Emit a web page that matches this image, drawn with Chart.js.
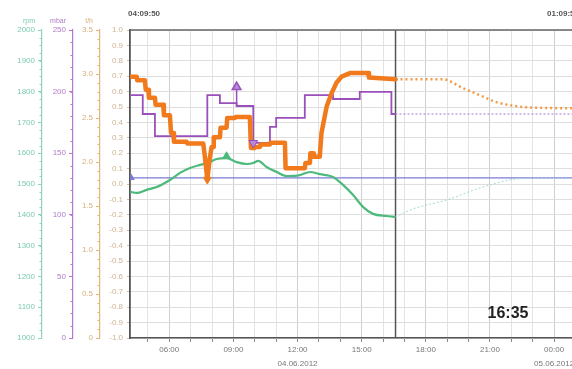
<!DOCTYPE html>
<html><head><meta charset="utf-8">
<script src="https://cdn.jsdelivr.net/npm/chart.js@4/dist/chart.umd.min.js"></script>
<style>
html,body{margin:0;padding:0;background:#fff;overflow:hidden;}
#wrap{width:572px;height:369px;overflow:hidden;position:relative;}
#box{width:600px;height:369px;position:absolute;left:0;top:0;}
</style></head><body>
<div id="wrap"><div id="box"><canvas id="c"></canvas></div></div>
<script>
// ---- time frame (hours of 04.06.2012) ----
const startHour = 4.1639;   // 04:09:50
const endHour = 25.1639;    // 01:09:50 (05.06.2012)
const nowHour = 16.583;     // 16:35
const startLabel = '04:09:50';
const endLabel = '01:09:50';
const nowLabel = '16:35';

// ---- x ticks ----
const hourTicks = [5,6,7,8,9,10,11,12,13,14,15,16,17,18,19,20,21,22,23,24,25];
const xLabelHours = [6,9,12,15,18,21,24];
const xLabels = ['06:00','09:00',['12:00','04.06.2012'],'15:00','18:00','21:00',['00:00','05.06.2012']];

// ---- axis labels ----
const greenLabels = [1000,1100,1200,1300,1400,1500,1600,1700,1800,1900,2000];
const magentaLabels = [0,50,100,150,200,250];
const orangeLabels = [0,0.5,1.0,1.5,2.0,2.5,3.0,3.5];
const greenUnit = 'rpm';
const magentaUnit = 'mbar';
const orangeUnit = 't/h';

// ---- orange series (t/h) ----
const orangeHours = [4.16,4.48,4.50,4.86,4.90,5.02,5.05,5.33,5.36,5.72,5.75,6.03,6.08,6.19,6.22,6.81,6.84,7.59,7.67,7.78,7.90,7.98,8.06,8.08,8.37,8.40,8.68,8.71,9.07,9.10,9.77,9.82,10.00,10.03,10.24,10.27,10.71,10.74,11.41,11.44,12.34,12.37,12.58,12.60,12.73,12.76,13.04,13.12,13.36,13.59,13.82,14.06,14.45,15.30,15.34,16.58];
const orangeValues = [2.97,2.97,2.93,2.93,2.82,2.82,2.73,2.73,2.65,2.65,2.53,2.53,2.33,2.33,2.23,2.23,2.21,2.21,2.05,1.80,2.05,2.17,2.17,2.28,2.28,2.39,2.39,2.50,2.50,2.51,2.51,2.16,2.16,2.17,2.17,2.20,2.20,2.22,2.22,1.93,1.93,1.99,1.99,2.10,2.10,2.06,2.06,2.33,2.63,2.78,2.90,2.97,3.01,3.01,2.96,2.94];
const orangeFcHours = [16.58,18.79,19.73,20.52,21.31,22.06,22.86,25.16];
const orangeFcValues = [2.94,2.94,2.84,2.76,2.68,2.64,2.62,2.61];

// ---- magenta series (mbar, stepped) ----
const magentaHours = [4.16,4.76,5.33,7.78,8.37,9.15,9.93,10.71,11.00,12.34,13.66,14.91,16.39,16.58];
const magentaValues = [197.2,181.8,163.9,197.2,190.7,188.3,158.3,171.3,178.6,197.2,194.0,199.7,181.8,181.8];
const magentaFcHours = [16.58,25.16];
const magentaFcValues = [181.8,181.8];

// ---- green series (rpm) ----
const greenHours = [4.16,4.48,4.94,5.41,6.03,6.50,6.97,7.44,7.78,8.22,8.68,9.15,9.62,9.93,10.16,10.55,11.02,11.49,12.11,12.58,13.04,13.66,14.13,14.60,15.07,15.53,16.16,16.58];
const greenValues = [1475,1471,1481,1490,1513,1536,1552,1562,1568,1581,1584,1571,1565,1568,1575,1555,1539,1526,1529,1539,1532,1523,1497,1464,1425,1403,1396,1393];
const greenFcHours = [16.58,17.40,18.96,20.52,22.08,22.86,25.16];
const greenFcValues = [1393,1419,1448,1487,1515,1519,1519];

// ---- blue reference line (right scale) ----
const blueHours = [4.16,25.16];
const blueValues = [0.04,0.04];

// ---- event markers ----
const orangeMarkHours = [7.78];  const orangeMarkValues = [1.80];
const greenMarkHours = [8.68];   const greenMarkValues = [1590];
const magentaUpHours = [9.15,9.15];  const magentaUpValues = [188.3,203.7];
const magentaDownHours = [9.93]; const magentaDownValues = [158.3];
const blueMarkHours = [4.22];    const blueMarkValues = [0.04];

const pts = (hs, vs) => hs.map((h, i) => ({x: h, y: vs[i]}));

const FONT = '"Liberation Sans", Arial, sans-serif';
const C = {
  orange: '#f07a1c', orangeFc: '#f29a45',
  magenta: '#9a4fba', magentaFc: '#b78ad2',
  green: '#4dba7c', greenFc: '#a6d9d2',
  blue: '#7b7bd6',
  gLab: '#7ccab3', mLab: '#b07cc8', oLab: '#d8b07a', qLab: '#cdb294'
};

const near = (arr, v) => arr.some(a => Math.abs(a - v) < 1e-6);

function sideAxis(weight, min, max, step, labels, color, lineColor, width, fmt) {
  return {
    type: 'linear', position: 'left', weight, min, max,
    ticks: {
      stepSize: step, autoSkip: false, color, padding: 3,
      font: {size: 8, family: FONT},
      callback: v => near(labels, v) ? fmt(v) : ''
    },
    grid: {
      drawOnChartArea: false, drawTicks: true, tickLength: 4,
      tickColor: ctx => near(labels, ctx.tick.value) ? lineColor : 'rgba(0,0,0,0)',
      color: lineColor
    },
    border: {color: lineColor, width: 1.2},
    afterFit: s => { s.width = width; }
  };
}

// minor tick marks drawn beside each side axis
const minorTicks = {
  id: 'minorTicks',
  afterDraw(chart) {
    const ctx = chart.ctx;
    ['yG','yM','yO'].forEach(id => {
      const s = chart.scales[id];
      const col = s.options.border.color;
      ctx.save(); ctx.strokeStyle = col; ctx.lineWidth = 1;
      s.ticks.forEach(t => {
        const y = Math.round(s.getPixelForValue(t.value)) + 0.5;
        ctx.beginPath(); ctx.moveTo(s.right - 2.5, y); ctx.lineTo(s.right, y); ctx.stroke();
      });
      ctx.restore();
    });
  }
};

const deco = {
  id: 'deco',
  afterDraw(chart) {
    const {ctx, chartArea: a, scales} = chart;
    ctx.save();
    ctx.strokeStyle = '#666'; ctx.lineWidth = 1.5;
    ctx.beginPath(); ctx.moveTo(a.left, a.top); ctx.lineTo(a.right, a.top); ctx.stroke();
    ctx.textBaseline = 'middle';
    ctx.font = 'bold 8px ' + FONT; ctx.fillStyle = '#555';
    ctx.textAlign = 'left'; ctx.fillText(startLabel, a.left - 2, 14);
    ctx.textAlign = 'right'; ctx.fillText(endLabel, a.right, 14);
    ctx.font = '7px ' + FONT;
    [['yG', greenUnit, C.gLab], ['yM', magentaUnit, C.mLab], ['yO', orangeUnit, C.oLab]].forEach(([id, txt, col]) => {
      const s = scales[id];
      ctx.fillStyle = col; ctx.textAlign = 'right';
      ctx.fillText(txt, s.right - 7, 21);
    });
    ctx.font = 'bold 16px ' + FONT; ctx.fillStyle = '#222'; ctx.textAlign = 'center';
    ctx.fillText(nowLabel, a.left + 378, a.bottom - 24);
    ctx.restore();
  }
};

new Chart(document.getElementById('c'), {
  type: 'line',
  data: {
    datasets: [
      {label: 'orangeMark', data: pts(orangeMarkHours, orangeMarkValues), yAxisID: 'yO', showLine: false,
       pointStyle: 'triangle', rotation: 180, pointRadius: 4.5, pointBackgroundColor: C.orange, pointBorderColor: C.orange},
      {label: 'greenMark', data: pts(greenMarkHours, greenMarkValues), yAxisID: 'yG', showLine: false,
       pointStyle: 'triangle', pointRadius: 4.5, pointBackgroundColor: C.green, pointBorderColor: C.green},
      {label: 'magentaUp', data: pts(magentaUpHours, magentaUpValues), yAxisID: 'yM', borderColor: C.magenta, borderWidth: 1.5,
       pointStyle: 'triangle', pointRadius: [0, 5], pointBackgroundColor: '#b58ad8', pointBorderColor: C.magenta},
      {label: 'magentaDown', data: pts(magentaDownHours, magentaDownValues), yAxisID: 'yM', showLine: false,
       pointStyle: 'triangle', rotation: 180, pointRadius: 5, pointBackgroundColor: '#b58ad8', pointBorderColor: C.magenta},
      {label: 'blueMark', data: pts(blueMarkHours, blueMarkValues), yAxisID: 'yQ', showLine: false,
       pointStyle: 'triangle', pointRadius: 3.5, pointBackgroundColor: C.blue, pointBorderColor: C.blue},
      {label: 'orange', data: pts(orangeHours, orangeValues), yAxisID: 'yO', borderColor: C.orange, borderWidth: 4.5,
       pointRadius: 0, borderJoinStyle: 'round', borderCapStyle: 'round'},
      {label: 'orangeFc', data: pts(orangeFcHours, orangeFcValues), yAxisID: 'yO', borderColor: C.orangeFc, borderWidth: 2.5,
       borderDash: [2, 3], pointRadius: 0, cubicInterpolationMode: 'monotone'},
      {label: 'magenta', data: pts(magentaHours, magentaValues), yAxisID: 'yM', borderColor: C.magenta, borderWidth: 1.8,
       pointRadius: 0, stepped: 'before'},
      {label: 'magentaFc', data: pts(magentaFcHours, magentaFcValues), yAxisID: 'yM', borderColor: C.magentaFc, borderWidth: 1.2,
       borderDash: [2, 2], pointRadius: 0},
      {label: 'green', data: pts(greenHours, greenValues), yAxisID: 'yG', borderColor: C.green, borderWidth: 2.2,
       pointRadius: 0, cubicInterpolationMode: 'monotone'},
      {label: 'greenFc', data: pts(greenFcHours, greenFcValues), yAxisID: 'yG', borderColor: C.greenFc, borderWidth: 1,
       borderDash: [2, 2], pointRadius: 0, cubicInterpolationMode: 'monotone'},
      {label: 'blue', data: pts(blueHours, blueValues), yAxisID: 'yQ', borderColor: C.blue, borderWidth: 1.2, pointRadius: 0},
      {label: 'now', data: [{x: nowHour, y: -1}, {x: nowHour, y: 1}], yAxisID: 'yQ', borderColor: '#555', borderWidth: 1.5, pointRadius: 0}
    ]
  },
  options: {
    responsive: true, maintainAspectRatio: false, animation: false, devicePixelRatio: 1, events: [],
    layout: {padding: {top: 30, right: 21, bottom: 0, left: 0}},
    plugins: {legend: {display: false}, tooltip: {enabled: false}},
    scales: {
      x: {
        type: 'linear', min: startHour, max: endHour,
        afterBuildTicks: s => { s.ticks = hourTicks.map(v => ({value: v})); },
        ticks: {
          autoSkip: false, maxRotation: 0, color: '#777', padding: 1,
          font: {size: 8, family: FONT, lineHeight: 1.7},
          callback: v => { const i = xLabelHours.indexOf(v); return i >= 0 ? xLabels[i] : ''; }
        },
        grid: {
          color: ctx => (ctx.tick && ctx.tick.value % 3 === 0) ? '#cfcfcf' : '#e3e3e3',
          tickColor: '#888', tickLength: 4, lineWidth: 1
        },
        border: {color: '#555', width: 1.5},
        afterFit: s => { s.height = 31; }
      },
      yG: sideAxis(4, 1000, 2000, 25, greenLabels, C.gLab, '#8fd3be', 42, v => String(v)),
      yM: sideAxis(3, 0, 250, 10, magentaLabels, C.mLab, '#b477cc', 31, v => String(v)),
      yO: sideAxis(2, 0, 3.5, 0.1, orangeLabels, C.oLab, '#e2b679', 27, v => v === 0 ? '0' : v.toFixed(1)),
      yQ: {
        type: 'linear', position: 'left', weight: 1, min: -1, max: 1,
        ticks: {stepSize: 0.1, autoSkip: false, color: C.qLab, padding: 4, font: {size: 8, family: FONT},
                callback: v => (Math.round(v * 10) / 10).toFixed(1)},
        grid: {color: '#dedede', tickColor: '#e0c09a', tickLength: 3, lineWidth: 1},
        border: {color: '#555', width: 1.8},
        afterFit: s => { s.width = 30; }
      }
    }
  },
  plugins: [minorTicks, deco]
});
</script>
</body></html>
